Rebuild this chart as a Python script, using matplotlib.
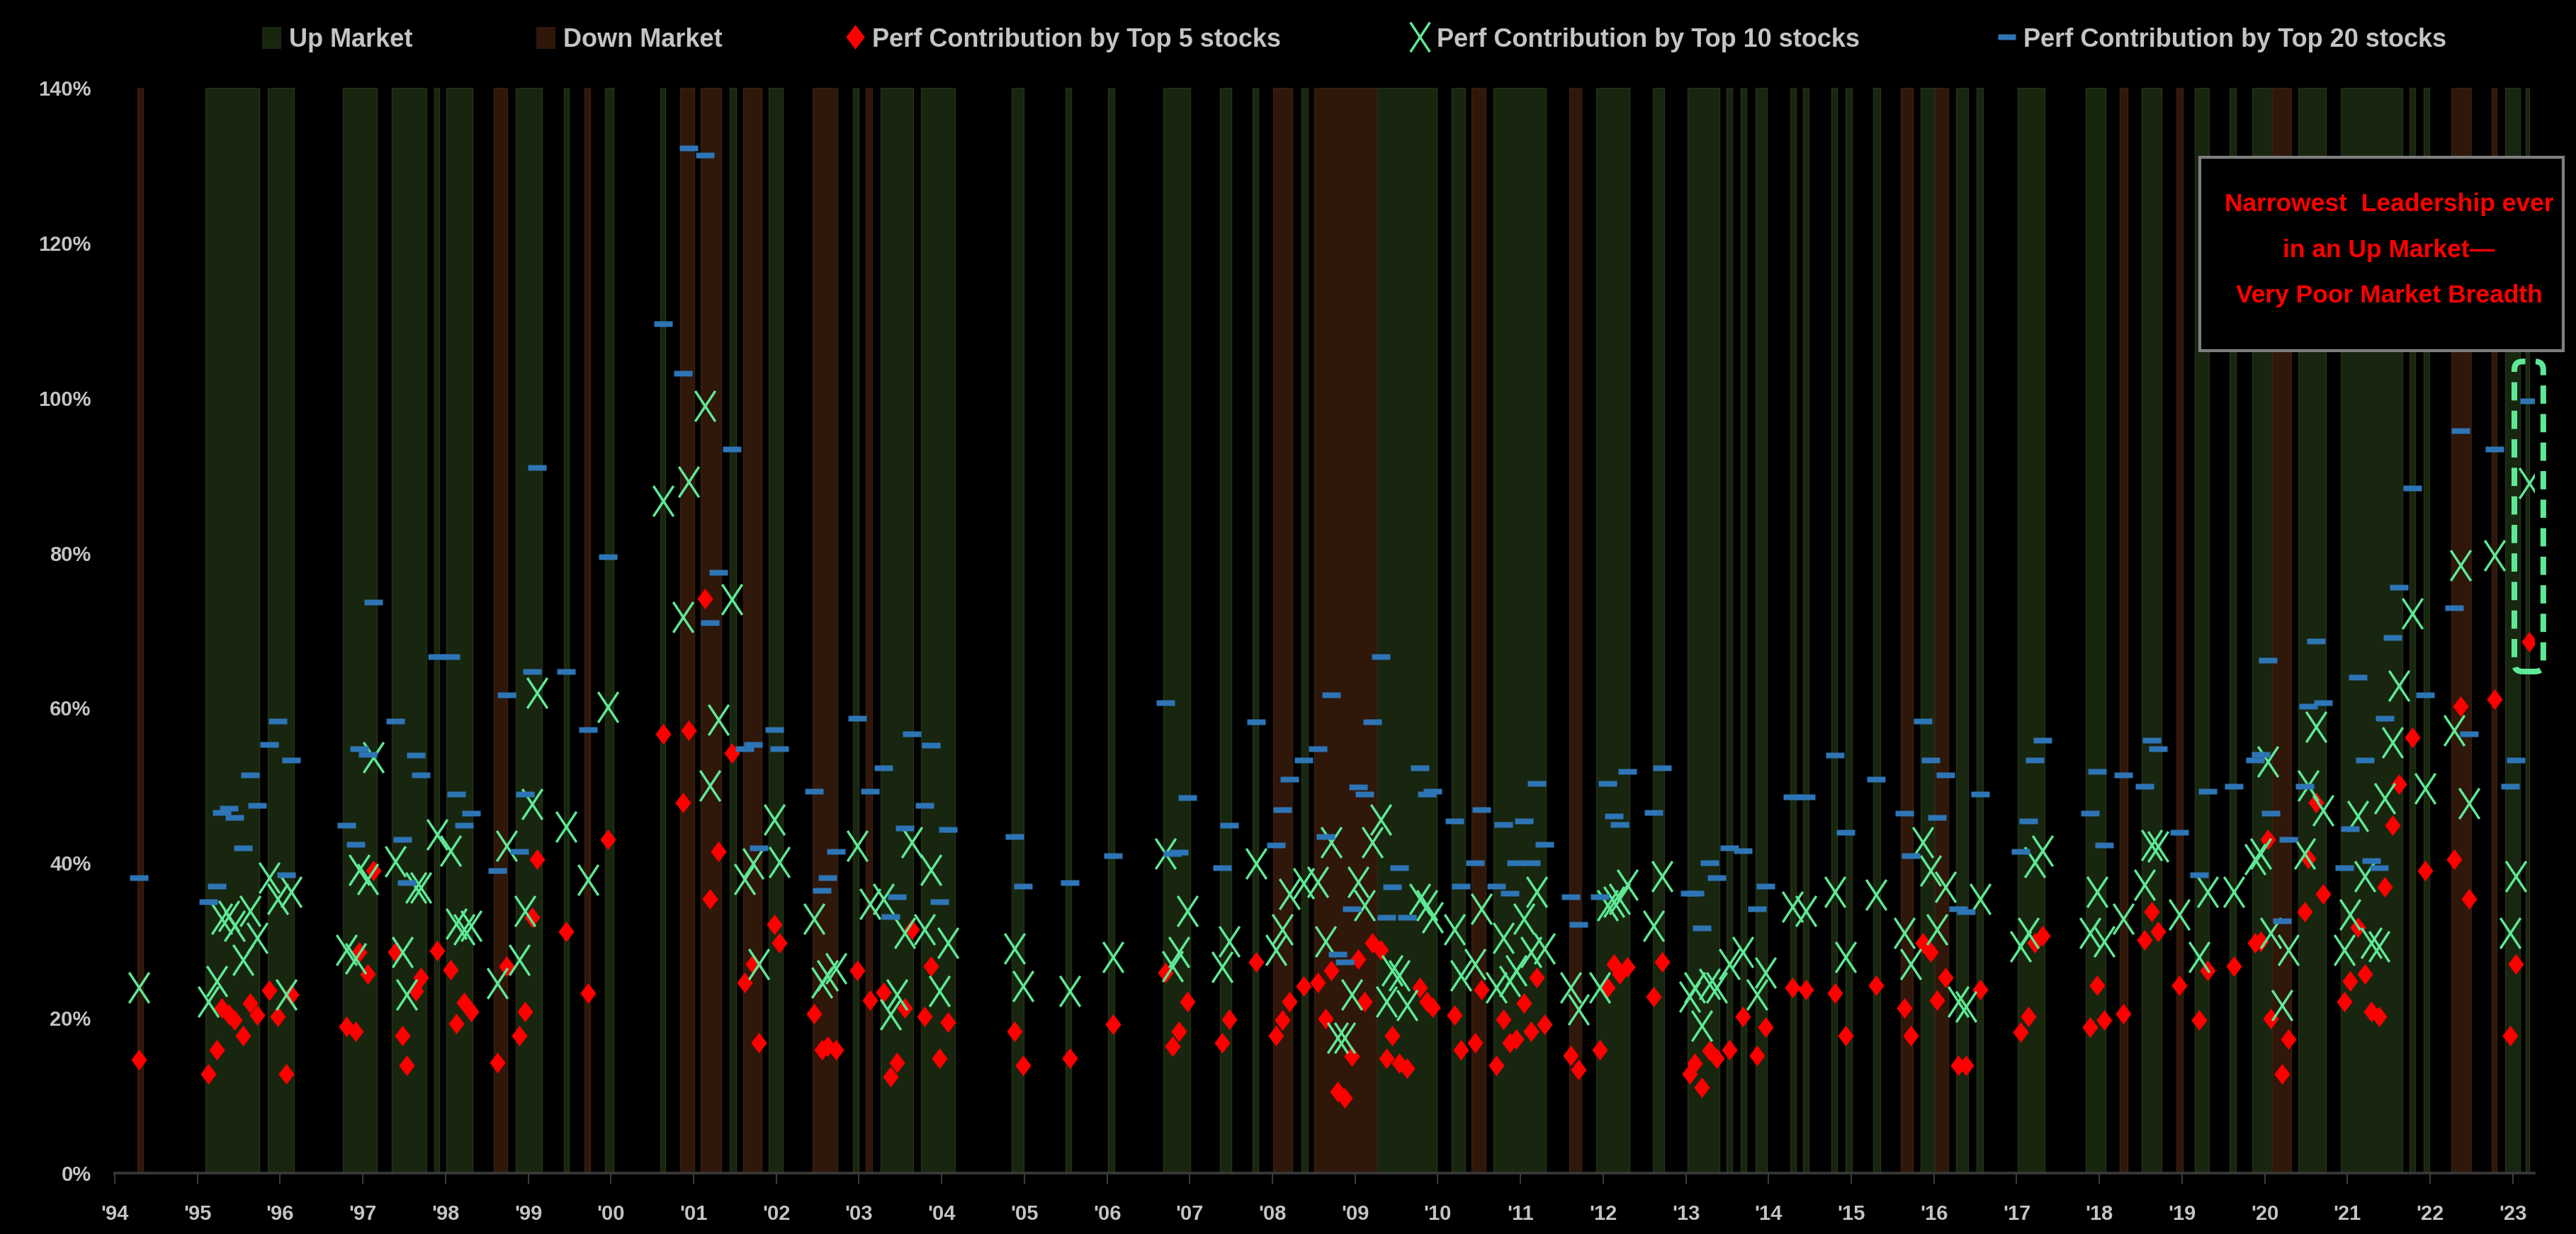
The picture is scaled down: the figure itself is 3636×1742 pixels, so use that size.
import matplotlib
matplotlib.use('Agg')
import matplotlib.pyplot as plt
from matplotlib.path import Path
from matplotlib.patches import Patch, Rectangle, FancyBboxPatch
from matplotlib.lines import Line2D

FONT = ['Liberation Sans Narrow', 'Liberation Sans', 'DejaVu Sans']
plt.rcParams['font.family'] = FONT

# ---------------- data ----------------
dates = [
    1994.29,
    1995.13, 1995.23, 1995.29, 1995.38, 1995.45, 1995.55, 1995.64, 1995.72, 1995.87, 1995.97, 1996.07, 1996.13,
    1996.80, 1996.91, 1996.96, 1997.06, 1997.13, 1997.39, 1997.48, 1997.53, 1997.64, 1997.70, 1997.90,
    1998.06, 1998.13, 1998.22, 1998.31, 1998.63, 1998.74, 1998.89, 1998.96, 1999.05, 1999.11,
    1999.46, 1999.72, 1999.96, 2000.63, 2000.87, 2000.94, 2001.14, 2001.20, 2001.30, 2001.46,
    2001.62, 2001.72, 2001.79, 2001.98, 2002.04, 2002.46, 2002.55, 2002.62, 2002.72, 2002.98,
    2003.13, 2003.30, 2003.38, 2003.46, 2003.55, 2003.64, 2003.79, 2003.87, 2003.97, 2004.08,
    2004.88, 2004.98, 2005.55, 2006.07, 2006.71, 2006.79, 2006.87, 2006.97, 2007.39, 2007.48, 2007.80,
    2008.04, 2008.12, 2008.21, 2008.38, 2008.55, 2008.64, 2008.71, 2008.79, 2008.87, 2008.96,
    2009.04, 2009.11, 2009.21, 2009.31, 2009.38, 2009.45, 2009.53, 2009.63, 2009.78, 2009.87, 2009.94,
    2010.20, 2010.28, 2010.45, 2010.53, 2010.71, 2010.79, 2010.87, 2010.95, 2011.04, 2011.13, 2011.20, 2011.29,
    2011.61, 2011.70, 2011.96, 2012.05, 2012.13, 2012.20, 2012.29, 2012.61, 2012.71,
    2013.05, 2013.11, 2013.19, 2013.29, 2013.37, 2013.53, 2013.69, 2013.86, 2013.96,
    2014.29, 2014.45, 2014.80, 2014.93,
    2015.30, 2015.64, 2015.72, 2015.87, 2015.96, 2016.04, 2016.14, 2016.29, 2016.39, 2016.56,
    2017.05, 2017.14, 2017.22, 2017.31, 2017.89, 2017.97, 2018.06, 2018.29, 2018.55, 2018.63, 2018.71, 2018.97,
    2019.21, 2019.31, 2019.63, 2019.88, 2019.95, 2020.04, 2020.07, 2020.21, 2020.29,
    2020.48, 2020.53, 2020.62, 2020.71, 2020.96, 2021.03, 2021.13, 2021.21, 2021.29, 2021.38, 2021.45, 2021.55,
    2021.62, 2021.79, 2021.94,
    2022.29, 2022.37, 2022.47, 2022.78, 2022.97, 2023.04, 2023.20,
]

top20 = [
    38.1,
    35.0, 37.0, 46.5, 47.1, 45.9, 41.9, 51.4, 47.4, 55.3, 58.3, 38.5, 53.3,
    44.9, 42.4, 54.7, 54.0, 73.7, 58.3, 43.0, 37.5, 53.9, 51.4, 66.6,
    66.6, 48.9, 44.9, 46.4, 39.0, 61.7, 41.5, 48.9, 64.7, 91.0,
    64.7, 57.2, 79.5, 109.6, 103.2, 132.2, 131.3, 71.0, 77.5, 93.4,
    54.7, 55.3, 41.9, 57.2, 54.7, 49.3, 36.5, 38.1, 41.5, 58.7,
    49.3, 52.3, 33.1, 35.6, 44.5, 56.7, 47.4, 55.2, 35.0, 44.3,
    43.4, 37.0, 37.5, 40.9, 60.7, 41.2, 41.4, 48.4, 39.4, 44.9, 58.2,
    42.3, 46.9, 50.8, 53.3, 54.7, 43.4, 61.7, 28.2, 27.2, 34.1,
    49.8, 48.9, 58.2, 66.6, 33.0, 36.9, 39.4, 33.0, 52.3, 48.9, 49.3,
    45.4, 37.0, 40.0, 46.9, 37.0, 45.0, 36.1, 40.0, 45.4, 40.0, 50.3, 42.4,
    35.6, 32.1, 35.6, 50.3, 46.1, 45.0, 51.8, 46.5, 52.3,
    36.1, 36.1, 31.6, 40.0, 38.1, 41.9, 41.6, 34.1, 37.0,
    48.5, 48.5, 53.9, 44.0,
    50.8, 46.4, 40.9, 58.3, 53.3, 45.9, 51.4, 34.1, 33.7, 48.9,
    41.5, 45.4, 53.3, 55.8, 46.4, 51.8, 42.3, 51.4, 49.9, 55.8, 54.7, 44.0,
    38.5, 49.3, 49.9, 53.3, 54.0, 66.2, 46.4, 32.5, 43.0,
    49.9, 60.2, 68.6, 60.7, 39.4, 44.4, 64.0, 53.3, 40.3, 39.4, 58.7, 69.1,
    75.6, 88.4, 61.7,
    72.9, 95.8, 56.7, 93.4, 49.9, 53.3, 99.6,
]

top10 = [
    23.9,
    22.1, 24.8, 32.8, 33.2, 31.9, 27.5, 33.8, 30.3, 38.1, 35.4, 23.0, 36.3,
    28.8, 27.7, 39.1, 37.9, 53.6, 40.2, 28.5, 23.0, 36.8, 36.8, 43.7,
    41.6, 32.2, 31.4, 31.9, 24.5, 42.2, 27.5, 33.8, 47.6, 62.0,
    44.7, 37.8, 60.1, 86.7, 71.7, 89.2, 99.0, 50.0, 58.5, 74.0,
    37.9, 39.9, 27.0, 45.6, 40.1, 32.8, 24.6, 25.5, 26.4, 42.2,
    34.7, 35.4, 20.5, 23.0, 31.0, 42.7, 31.4, 39.1, 23.5, 29.7,
    29.0, 24.1, 23.5, 27.9, 41.2, 26.7, 28.5, 33.8, 26.6, 29.9, 39.9,
    28.8, 31.4, 36.0, 37.4, 37.6, 29.9, 42.7, 17.5, 17.5, 23.0,
    37.6, 34.5, 42.7, 45.6, 22.1, 26.1, 25.5, 21.7, 35.4, 34.5, 33.0,
    31.4, 25.5, 27.0, 34.1, 23.9, 30.3, 24.8, 26.1, 32.8, 28.5, 36.3, 29.0,
    23.9, 21.1, 23.9, 34.5, 35.0, 35.4, 37.2, 31.9, 38.3,
    22.8, 23.9, 19.0, 24.4, 23.9, 27.0, 28.5, 23.0, 25.9,
    34.4, 33.8, 36.3, 27.9,
    35.9, 31.0, 27.0, 42.7, 39.0, 31.4, 36.9, 22.1, 21.5, 35.4,
    29.2, 31.0, 40.1, 41.6, 31.0, 36.3, 29.9, 32.8, 37.2, 42.3, 42.1, 33.4,
    27.9, 36.3, 36.3, 40.5, 41.2, 53.1, 31.0, 21.7, 28.8,
    41.2, 50.0, 57.6, 46.8, 28.8, 33.4, 46.1, 38.3, 29.7, 29.2, 48.3, 55.6,
    62.9, 72.2, 49.6,
    57.1, 78.4, 47.7, 79.7, 31.0, 38.3, 89.0,
]

top5 = [
    14.6,
    12.8, 15.9, 21.3, 20.5, 19.7, 17.7, 21.9, 20.4, 23.6, 20.2, 12.8, 23.0,
    18.9, 18.3, 28.5, 25.7, 39.0, 28.5, 17.7, 13.9, 23.5, 25.2, 28.7,
    26.2, 19.3, 22.0, 20.8, 14.3, 26.7, 17.7, 20.8, 33.0, 40.5,
    31.2, 23.2, 43.0, 56.7, 47.8, 57.1, 74.1, 35.4, 41.5, 54.2,
    24.6, 27.0, 16.8, 32.1, 29.7, 20.6, 15.9, 16.4, 15.9, 26.1,
    22.3, 23.3, 12.4, 14.3, 21.3, 31.4, 20.2, 26.7, 14.8, 19.5,
    18.3, 13.9, 14.8, 19.2, 25.9, 16.4, 18.3, 22.1, 16.8, 19.8, 27.2,
    17.7, 19.7, 22.1, 24.1, 24.6, 19.9, 26.1, 10.5, 9.7, 15.1,
    27.6, 22.1, 29.7, 28.8, 14.8, 17.7, 14.2, 13.5, 23.9, 22.1, 21.4,
    20.4, 15.9, 16.8, 23.7, 13.9, 19.8, 16.8, 17.3, 21.9, 18.3, 25.2, 19.2,
    15.2, 13.3, 15.9, 23.9, 27.0, 25.7, 26.6, 22.8, 27.2,
    12.8, 14.2, 11.1, 15.8, 14.8, 15.9, 20.2, 15.2, 18.8,
    23.9, 23.7, 23.2, 17.7,
    24.2, 21.3, 17.7, 29.7, 28.5, 22.3, 25.2, 13.9, 13.9, 23.7,
    18.2, 20.2, 29.7, 30.6, 18.8, 24.2, 19.7, 20.6, 30.1, 33.7, 31.2, 24.2,
    19.7, 26.1, 26.7, 29.7, 29.9, 43.0, 19.9, 12.8, 17.3,
    33.7, 40.6, 47.8, 36.0, 22.1, 24.8, 31.7, 25.7, 20.8, 20.2, 36.9, 44.9,
    50.2, 56.2, 39.0,
    40.5, 60.2, 35.4, 61.1, 17.7, 27.0, 68.5,
]

# market regime periods (fractional years)
up_start = [1995.10, 1995.85, 1996.76, 1997.35, 1997.86, 1998.01, 1998.85, 1999.43, 1999.93, 2000.60,
            2001.44, 2001.91, 2002.93, 2003.26, 2003.75, 2004.85, 2005.50, 2006.01, 2006.68, 2007.37,
            2007.76, 2008.35, 2009.26, 2010.17, 2010.67, 2011.92, 2012.60, 2013.02, 2013.49, 2013.66,
            2013.84, 2014.26, 2014.42, 2014.76, 2014.93, 2015.27, 2015.84, 2016.27, 2016.52, 2017.01,
            2017.84, 2018.51, 2019.16, 2019.58, 2019.85, 2020.41, 2020.92, 2021.75, 2021.92, 2022.91,
            2023.16]
up_end = [1995.75, 1996.17, 1997.17, 1997.77, 1997.92, 1998.33, 1999.17, 1999.49, 2000.03, 2000.66,
          2001.51, 2002.08, 2003.00, 2003.66, 2004.16, 2004.99, 2005.57, 2006.09, 2007.01, 2007.50,
          2007.83, 2008.43, 2009.99, 2010.33, 2011.31, 2012.32, 2012.74, 2013.41, 2013.56, 2013.73,
          2013.98, 2014.33, 2014.49, 2014.83, 2015.01, 2015.35, 2016.00, 2016.41, 2016.59, 2017.34,
          2018.08, 2018.75, 2019.33, 2019.65, 2020.09, 2020.74, 2021.67, 2021.82, 2021.99, 2023.09,
          2023.20]
down_start = [1994.27, 1998.58, 1999.68, 2000.84, 2001.09, 2001.60, 2002.44, 2003.08, 2008.01, 2008.51,
              2010.41, 2011.59, 2015.60, 2016.01, 2018.25, 2018.93, 2020.09, 2022.26, 2022.75]
down_end = [1994.34, 1998.75, 1999.75, 2001.01, 2001.33, 2001.82, 2002.74, 2003.16, 2008.24, 2009.26,
            2010.58, 2011.74, 2015.75, 2016.17, 2018.34, 2019.01, 2020.32, 2022.50, 2022.81]

year_ticks = list(range(1994, 2024))
year_labels = ["'94", "'95", "'96", "'97", "'98", "'99", "'00", "'01", "'02", "'03",
               "'04", "'05", "'06", "'07", "'08", "'09", "'10", "'11", "'12", "'13",
               "'14", "'15", "'16", "'17", "'18", "'19", "'20", "'21", "'22", "'23"]
pct_ticks = [0, 20, 40, 60, 80, 100, 120, 140]
pct_labels = ['0%', '20%', '40%', '60%', '80%', '100%', '120%', '140%']

legend_labels = ['Up Market', 'Down Market', 'Perf Contribution by Top 5 stocks',
                 'Perf Contribution by Top 10 stocks', 'Perf Contribution by Top 20 stocks']
note_text = "Narrowest  Leadership ever\nin an Up Market\u2014\nVery Poor Market Breadth"

# ---------------- styles ----------------
UP_C = '#18260f'
DOWN_C = '#2f170a'
RED = '#ff0000'
GREEN = '#5ee896'
BLUE = '#2e75b6'
TXT = '#c4c4c4'

diamond = Path([(0, 1), (0.76, 0), (0, -1), (-0.76, 0), (0, 1)],
               [Path.MOVETO, Path.LINETO, Path.LINETO, Path.LINETO, Path.CLOSEPOLY])
xmark = Path([(-0.66, -1), (0.66, 1), (-0.66, 1), (0.66, -1)],
             [Path.MOVETO, Path.LINETO, Path.MOVETO, Path.LINETO])
dash = Path([(-1, -0.3), (1, -0.3), (1, 0.3), (-1, 0.3), (-1, -0.3)],
            [Path.MOVETO, Path.LINETO, Path.LINETO, Path.LINETO, Path.CLOSEPOLY])

W, H = 3637, 1742
fig = plt.figure(figsize=(W / 100, H / 100), dpi=100, facecolor='black')
ax = fig.add_axes([162 / W, 1 - 1656 / H, (3577 - 162) / W, (1656 - 124) / H])
ax.set_facecolor('black')

for s, e in zip(up_start, up_end):
    ax.axvspan(s, e, facecolor=UP_C, edgecolor='#243319', lw=1.0, zorder=0)
for s, e in zip(down_start, down_end):
    ax.axvspan(s, e, facecolor=DOWN_C, edgecolor='#3a2010', lw=1.0, zorder=0)

ax.plot(dates, top5, ls='none', marker=diamond, ms=21, mfc=RED, mec='none', zorder=3)
ax.plot(dates, top10, ls='none', marker=xmark, ms=31, mfc='none', mec=GREEN, mew=2.5, zorder=4)
ax.plot(dates, top20, ls='none', marker=dash, ms=19, mfc=BLUE, mec='none', zorder=5)

ax.set_xlim(1994.0, 2023.26)
ax.set_ylim(0, 140)

ax.set_xticks(year_ticks, labels=year_labels, fontweight='bold', color=TXT, fontsize=21)
ax.set_yticks(pct_ticks, labels=pct_labels, fontweight='bold', color=TXT, fontsize=21)
ax.tick_params(axis='x', length=11, width=1.2, color='#4a4a4a', pad=21, direction='out')
ax.tick_params(axis='y', length=0, pad=24)

for sp in ['left', 'top', 'right']:
    ax.spines[sp].set_visible(False)
ax.spines['bottom'].set_color('#3a3a3a')
ax.spines['bottom'].set_linewidth(2.6)

# legend: one entry per anchor so each sits where it does in the original
handles = [
    Patch(facecolor=UP_C, edgecolor='none'),
    Patch(facecolor=DOWN_C, edgecolor='none'),
    Line2D([], [], ls='none', marker=diamond, ms=25, mfc=RED, mec='none'),
    Line2D([], [], ls='none', marker=xmark, ms=30, mfc='none', mec=GREEN, mew=2.5),
    Line2D([], [], ls='none', marker=dash, ms=18, mfc=BLUE, mec='none'),
]
legend_x = [370, 757, 1193, 1990, 2818]
for h, lab, lx in zip(handles, legend_labels, legend_x):
    fig.legend([h], [lab], loc='center left', bbox_to_anchor=(lx / W, 1 - 56 / H),
               frameon=False, prop=dict(family=FONT, size=26, weight='bold'), labelcolor=TXT,
               handlelength=0.75, handleheight=0.95, handletextpad=0.3,
               borderpad=0, borderaxespad=0)

# annotation box
fig.add_artist(Rectangle((3105 / W, 1 - 495 / H), (3618 - 3105) / W, (495 - 222) / H,
                         transform=fig.transFigure, facecolor='black', edgecolor='#7f7f7f',
                         lw=3, zorder=10))
fig.text(3372 / W, 1 - 353 / H, note_text, color=RED, fontsize=25.5, fontweight='bold',
         ha='center', va='center', multialignment='center', linespacing=2.2, zorder=11)

# dashed highlight around latest reading
ax.add_patch(FancyBboxPatch((2023.02, 64.7), 0.35, 40.0,
                            boxstyle='round,pad=0,rounding_size=0.1', mutation_aspect=10.7,
                            fill=False, edgecolor=GREEN, lw=5.8, linestyle=(0, (3.2, 1.8)),
                            clip_on=False, zorder=6))

fig.savefig('out.png', dpi=100, facecolor='black')
